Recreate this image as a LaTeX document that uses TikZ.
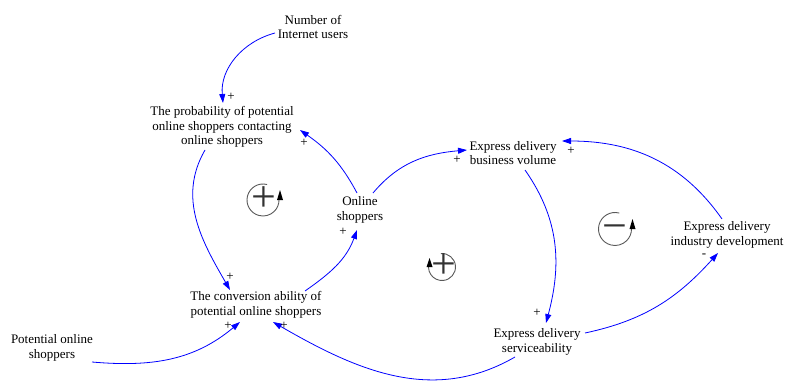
\documentclass[tikz,border=0pt]{standalone}
\usepackage{fontspec}
\setmainfont{Liberation Serif}
\usetikzlibrary{arrows.meta}
\begin{document}
\begin{tikzpicture}[x=1pt,y=1pt,
  var/.style={align=center,font=\fontsize{13}{14.5}\selectfont,inner sep=1pt},
  link/.style={draw=blue,line width=0.8pt,-{Triangle[length=9pt,width=6pt]}},
  pol/.style={font=\fontsize{13}{13}\selectfont,inner sep=0pt},
  loopc/.style={draw=black!65,line width=0.9pt},
  looptip/.style={fill=black},
  loopsign/.style={font=\fontsize{44}{44}\selectfont,inner sep=0pt,anchor=base,text=black!80}]
\useasboundingbox (0,0) rectangle (787,381);
% variables
\node[var] (inet)   at (313,354) {Number of\\Internet users};
\node[var] (prob)   at (222,254) {The probability of potential\\online shoppers contacting\\online shoppers};
\node[var] (online) at (360,171) {Online\\shoppers};
\node[var] (conv)   at (256,76)  {The conversion ability of\\potential online shoppers};
\node[var] (pot)    at (52,33)   {Potential online\\shoppers};
\node[var] (bv)     at (513,228) {Express delivery\\business volume};
\node[var] (serv)   at (537,39)  {Express delivery\\serviceability};
\node[var] (ind)    at (727,146) {Express delivery\\industry development};
% links
\draw[link] ([shift={(-38,-6)}]inet.center) to[out=195,in=95] ([shift={(1,24)}]prob.center);
\draw[link] ([shift={(-3,17)}]online.center) to[out=118,in=-35] ([shift={(78,-3)}]prob.center);
\draw[link] ([shift={(-17,-23)}]prob.center) to[out=240,in=120] ([shift={(-26,15)}]conv.center);
\draw[link] ([shift={(49,14)}]conv.center) to[out=35,in=250] ([shift={(-3,-20)}]online.center);
\draw[link] ([shift={(13,17)}]online.center) to[out=50,in=185] ([shift={(-46,3)}]bv.center);
\draw[link] ([shift={(12,-17)}]bv.center) to[out=-55,in=75] ([shift={(9,19)}]serv.center);
\draw[link] ([shift={(48,9)}]serv.center) to[out=12,in=228] ([shift={(-9,-18)}]ind.center);
\draw[link] ([shift={(-5,16)}]ind.center) to[out=125,in=0] ([shift={(49,12)}]bv.center);
\draw[link] ([shift={(-22,-15)}]serv.center) to[out=210,in=-30] ([shift={(17,-17)}]conv.center);
\draw[link] ([shift={(40,-14)}]pot.center) to[out=-5,in=220] ([shift={(-16,-17)}]conv.center);
% polarities
\node[pol] (p1) at (231,284) {+};
\node[pol] (p2) at (304,238) {+};
\node[pol] (p3) at (230,104) {+};
\node[pol] (p4) at (343,149) {+};
\node[pol] (p5) at (457,221) {+};
\node[pol] (p6) at (537,68)  {+};
\node[pol] (p7) at (704,125) {-};
\node[pol] (p8) at (571,230) {+};
\node[pol] (p9) at (284,55)  {+};
\node[pol] (p10) at (228,55) {+};
% loop symbols
% loop 1 (reinforcing, counter-clockwise)
\draw[loopc] (263,181) ++(75:16) arc[start angle=75,end angle=360,radius=16];
\fill[looptip] (277,181) -- (283,181) -- (280,191) -- cycle;
\node[loopsign] (l1) at (264,170) {+};
% loop 2 (reinforcing, clockwise)
\draw[loopc] (442,114) ++(95:13.5) arc[start angle=95,end angle=-180,radius=13.5];
\fill[looptip] (426.5,114) -- (432.5,114) -- (429.5,123) -- cycle;
\node[loopsign] (l2) at (444,103) {+};
% loop 3 (balancing, counter-clockwise)
\draw[loopc] (615,152) ++(75:16.5) arc[start angle=75,end angle=360,radius=16.5];
\fill[looptip] (629.5,152) -- (635.5,152) -- (632.5,162) -- cycle;
\node[loopsign] (l3) at (615,141) {−};
\end{tikzpicture}
\end{document}
